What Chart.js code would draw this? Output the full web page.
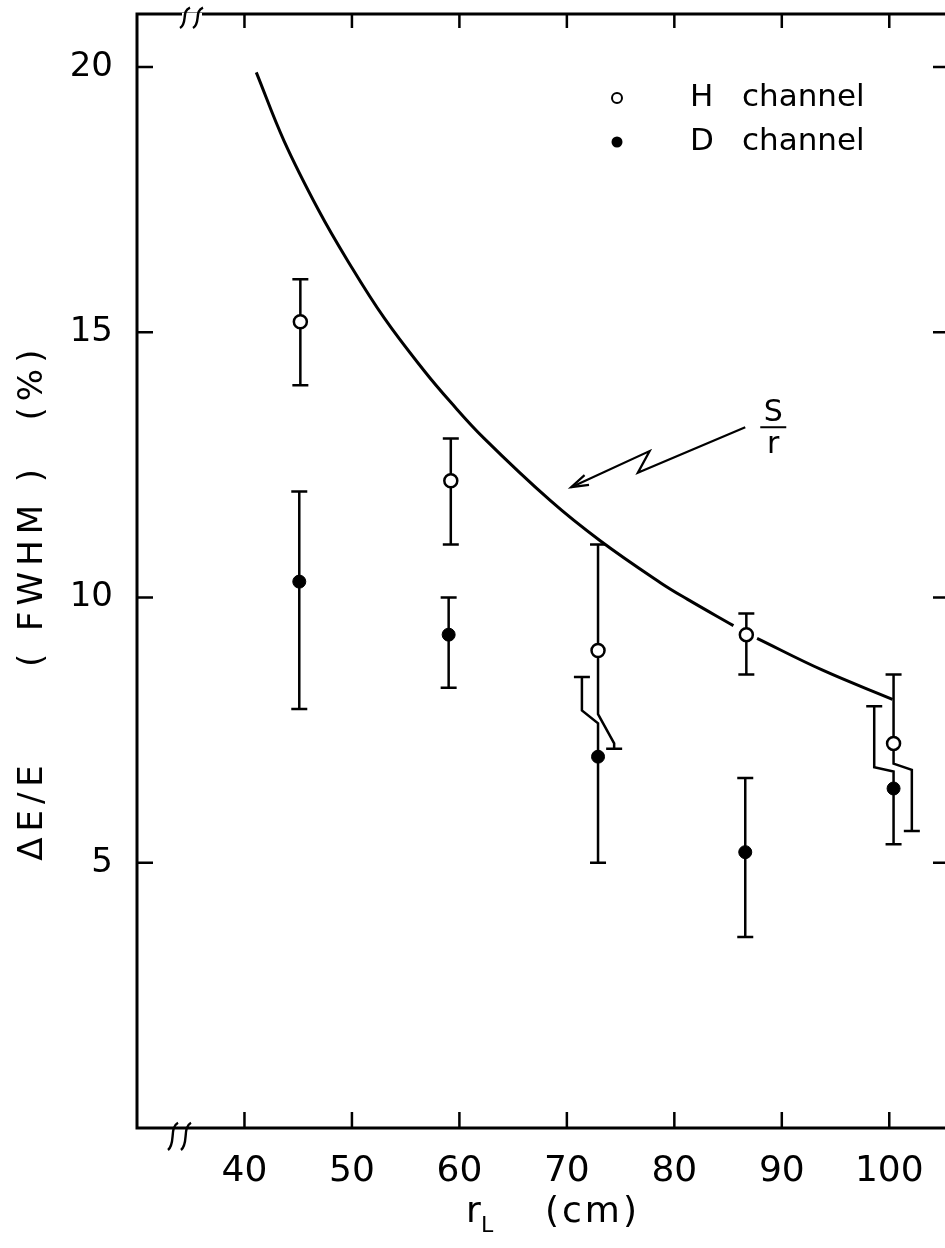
<!DOCTYPE html>
<html>
<head>
<meta charset="utf-8">
<script src="https://cdn.jsdelivr.net/npm/chart.js@4.4.0/dist/chart.umd.min.js"></script>
<style>
  html, body { margin: 0; padding: 0; background: #fff; overflow: hidden; }
  canvas { display: block; }
</style>
</head>
<body>
<canvas id="energy-chart" width="952" height="1248"></canvas>
<script>
// ---------------------------------------------------------------
// Energy resolution vs. radius : H and D channels, with S/r curve
// ---------------------------------------------------------------
var xTicks = [40, 50, 60, 70, 80, 90, 100];
var yTicks = [5, 10, 15, 20];

// H channel (open circles)
var hX    = [45.2, 59.2, 72.9, 86.7, 100.4];
var hY    = [15.2, 12.2, 9.0, 9.3, 7.25];
var hLow  = [14.0, 11.0, 7.15, 8.55, 5.6];
var hHigh = [16.0, 13.0, 11.0, 9.7, 8.55];
// lower half of some H bars is shifted right so it doesn't overlap D
var hJogX      = [null, null, 74.4, null, 102.1];
var hJogTop    = [null, null, 7.8, null, 6.87];
var hJogBottom = [null, null, 7.25, null, 6.75];

// D channel (filled circles)
var dX    = [45.1, 59.0, 72.9, 86.6, 100.4];
var dY    = [10.3, 9.3, 7.0, 5.2, 6.4];
var dLow  = [7.9, 8.3, 5.0, 3.6, 5.35];
var dHigh = [12.0, 10.0, 8.5, 6.6, 7.95];
// upper half of some D bars is shifted left
var dJogX      = [null, null, 71.4, null, 98.6];
var dJogTop    = [null, null, 7.87, null, 6.8];
var dJogBottom = [null, null, 7.63, null, 6.72];

// S/r curve, read along its length (gap where it passes the H point)
var sX = [41.1, 43.7, 46.9, 49.6, 53.0, 56.7, 59.2, 62.3, 68.5, 73.1, 78.7, 81.2, 85.5, 86.6, 87.7, 93.8, 100.3];
var sY = [19.9, 18.6, 17.3, 16.35, 15.27, 14.28, 13.68, 13.0, 11.82, 11.07, 10.28, 9.97, 9.47, null, 9.23, 8.63, 8.08];

// lightning arrow pointing at the curve (data units), tail first
var arrowX = [86.6, 76.6, 77.7, 70.4];
var arrowY = [13.21, 12.35, 12.76, 12.08];

var FONT = '"DejaVu Sans", sans-serif';

function pts(xs, ys) {
  var out = [];
  for (var i = 0; i < xs.length; i++) out.push({x: xs[i], y: ys[i]});
  return out;
}

function cap(ctx, px, py) {
  ctx.moveTo(px - 8, py);
  ctx.lineTo(px + 8, py);
}

var framePlugin = {
  id: 'frame',
  beforeDatasetsDraw: function(chart) {
    var ctx = chart.ctx, x = chart.scales.x, y = chart.scales.y;
    ctx.save();
    ctx.strokeStyle = '#000';
    ctx.lineWidth = 2.5;
    // H error bars
    for (var i = 0; i < hX.length; i++) {
      var px = x.getPixelForValue(hX[i]);
      ctx.beginPath();
      cap(ctx, px, y.getPixelForValue(hHigh[i]));
      ctx.moveTo(px, y.getPixelForValue(hHigh[i]));
      if (hJogX[i] !== null) {
        var jx = x.getPixelForValue(hJogX[i]);
        ctx.lineTo(px, y.getPixelForValue(hJogTop[i]));
        ctx.lineTo(jx, y.getPixelForValue(hJogBottom[i]));
        ctx.lineTo(jx, y.getPixelForValue(hLow[i]));
        cap(ctx, jx, y.getPixelForValue(hLow[i]));
      } else {
        ctx.lineTo(px, y.getPixelForValue(hLow[i]));
        cap(ctx, px, y.getPixelForValue(hLow[i]));
      }
      ctx.stroke();
    }
    // D error bars
    for (var j = 0; j < dX.length; j++) {
      var qx = x.getPixelForValue(dX[j]);
      ctx.beginPath();
      if (dJogX[j] !== null) {
        var kx = x.getPixelForValue(dJogX[j]);
        cap(ctx, kx, y.getPixelForValue(dHigh[j]));
        ctx.moveTo(kx, y.getPixelForValue(dHigh[j]));
        ctx.lineTo(kx, y.getPixelForValue(dJogTop[j]));
        ctx.lineTo(qx, y.getPixelForValue(dJogBottom[j]));
      } else {
        cap(ctx, qx, y.getPixelForValue(dHigh[j]));
        ctx.moveTo(qx, y.getPixelForValue(dHigh[j]));
      }
      ctx.lineTo(qx, y.getPixelForValue(dLow[j]));
      cap(ctx, qx, y.getPixelForValue(dLow[j]));
      ctx.stroke();
    }
    ctx.restore();
  },
  afterDraw: function(chart) {
    var ctx = chart.ctx, a = chart.chartArea, x = chart.scales.x, y = chart.scales.y;
    var edge = chart.width;
    ctx.save();
    ctx.strokeStyle = '#000';
    ctx.fillStyle = '#000';

    // frame: left, top and bottom; the right side runs off the page
    ctx.lineWidth = 3;
    ctx.beginPath();
    ctx.moveTo(edge, a.top); ctx.lineTo(a.left, a.top);
    ctx.lineTo(a.left, a.bottom); ctx.lineTo(edge, a.bottom);
    ctx.stroke();

    // inward ticks
    ctx.lineWidth = 2.5;
    ctx.beginPath();
    xTicks.forEach(function(v) {
      var px = x.getPixelForValue(v);
      ctx.moveTo(px, a.bottom); ctx.lineTo(px, a.bottom - 16);
      ctx.moveTo(px, a.top); ctx.lineTo(px, a.top + 14);
    });
    yTicks.forEach(function(v) {
      var py = y.getPixelForValue(v);
      ctx.moveTo(a.left, py); ctx.lineTo(a.left + 16, py);
      ctx.moveTo(edge, py); ctx.lineTo(a.right - 10, py);
    });
    ctx.stroke();

    // axis break marks
    function brk(bx, by, h) {
      ctx.fillStyle = '#fff';
      ctx.fillRect(bx - 3, by - 3, 20, 6);
      ctx.lineWidth = 2.4;
      [bx, bx + 13].forEach(function(sx) {
        ctx.beginPath();
        ctx.moveTo(sx - 5, by + h);
        ctx.bezierCurveTo(sx + 3, by + h * 0.6, sx - 4, by - h * 0.4, sx + 5, by - h * 0.7);
        ctx.stroke();
      });
    }
    brk(a.left + 36, a.bottom + 6, 16);
    brk(a.left + 48, a.top + 2, 12);
    ctx.fillStyle = '#000';

    // lightning arrow towards the curve
    ctx.lineWidth = 2.2;
    ctx.beginPath();
    for (var i = 0; i < arrowX.length; i++) {
      var ax = x.getPixelForValue(arrowX[i]), ay = y.getPixelForValue(arrowY[i]);
      if (i === 0) ctx.moveTo(ax, ay); else ctx.lineTo(ax, ay);
    }
    ctx.stroke();
    var n = arrowX.length - 1;
    var ex = x.getPixelForValue(arrowX[n]), ey = y.getPixelForValue(arrowY[n]);
    var fx = x.getPixelForValue(arrowX[n - 1]), fy = y.getPixelForValue(arrowY[n - 1]);
    var ang = Math.atan2(ey - fy, ex - fx);
    ctx.beginPath();
    ctx.moveTo(ex - 18 * Math.cos(ang - 0.3), ey - 18 * Math.sin(ang - 0.3));
    ctx.lineTo(ex, ey);
    ctx.lineTo(ex - 18 * Math.cos(ang + 0.3), ey - 18 * Math.sin(ang + 0.3));
    ctx.stroke();

    // S / r label
    var lx = x.getPixelForValue(arrowX[0]) + 28, ly = y.getPixelForValue(arrowY[0]);
    ctx.font = '30px ' + FONT;
    ctx.textAlign = 'center';
    ctx.textBaseline = 'alphabetic';
    ctx.fillText('S', lx, ly - 6);
    ctx.fillText('r', lx, ly + 26);
    ctx.lineWidth = 2;
    ctx.beginPath();
    ctx.moveTo(lx - 13, ly); ctx.lineTo(lx + 13, ly);
    ctx.stroke();

    // legend
    var gx = 617, rows = [98, 142];
    ctx.lineWidth = 2;
    ctx.beginPath();
    ctx.arc(gx, rows[0], 5, 0, Math.PI * 2);
    ctx.stroke();
    ctx.beginPath();
    ctx.arc(gx, rows[1], 5.5, 0, Math.PI * 2);
    ctx.fill();
    ctx.font = '31px ' + FONT;
    ctx.textAlign = 'left';
    ctx.textBaseline = 'middle';
    ctx.fillText('H', 690, rows[0]);
    ctx.fillText('channel', 742, rows[0]);
    ctx.fillText('D', 690, rows[1]);
    ctx.fillText('channel', 742, rows[1]);

    // x-axis title: r_L (cm)
    ctx.font = '36px ' + FONT;
    ctx.textBaseline = 'alphabetic';
    ctx.fillText('r', 466, 1222);
    ctx.font = '22px ' + FONT;
    ctx.fillText('L', 481, 1232);
    ctx.font = '36px ' + FONT;
    ctx.letterSpacing = '3px';
    ctx.fillText('(cm)', 545, 1222);

    // y-axis title
    ctx.translate(42, 0);
    ctx.rotate(-Math.PI / 2);
    ctx.font = '34px ' + FONT;
    ctx.letterSpacing = '6px';
    ctx.textAlign = 'center';
    ctx.fillText('\u0394E/E', -810, 0);
    ctx.fillText('( FWHM )', -565, 0);
    ctx.fillText('(%)', -382, 0);
    ctx.restore();
  }
};

var ctx = document.getElementById('energy-chart').getContext('2d');
var chart = new Chart(ctx, {
  type: 'scatter',
  data: {
    datasets: [
      {
        label: 'S/r',
        type: 'line',
        data: pts(sX, sY),
        borderColor: '#000',
        borderWidth: 3,
        pointRadius: 0,
        tension: 0.4,
        spanGaps: false,
        order: 3
      },
      {
        label: 'H channel',
        data: pts(hX, hY),
        pointStyle: 'circle',
        pointRadius: 6.5,
        backgroundColor: '#fff',
        borderColor: '#000',
        borderWidth: 2.5,
        order: 1
      },
      {
        label: 'D channel',
        data: pts(dX, dY),
        pointStyle: 'circle',
        pointRadius: 6.5,
        backgroundColor: '#000',
        borderColor: '#000',
        borderWidth: 1,
        order: 2
      }
    ]
  },
  options: {
    responsive: false,
    animation: false,
    events: [],
    layout: { padding: { top: 14, right: 5, left: 0, bottom: 0 } },
    plugins: { legend: { display: false }, tooltip: { enabled: false } },
    scales: {
      x: {
        type: 'linear',
        min: 30,
        max: 105,
        afterBuildTicks: function(s) { s.ticks = xTicks.map(function(v) { return {value: v}; }); },
        afterFit: function(s) {
          s.height = 120;
          s.paddingLeft = 0; s.paddingRight = 0; s.paddingTop = 0; s.paddingBottom = 0;
        },
        grid: { display: false, drawTicks: false },
        border: { display: false },
        ticks: { color: '#000', font: { family: FONT, size: 36 }, padding: 22, maxRotation: 0 }
      },
      y: {
        type: 'linear',
        min: 0,
        max: 21,
        afterBuildTicks: function(s) { s.ticks = yTicks.map(function(v) { return {value: v}; }); },
        afterFit: function(s) {
          s.width = 137;
          s.paddingLeft = 0; s.paddingRight = 0; s.paddingTop = 0; s.paddingBottom = 0;
        },
        grid: { display: false, drawTicks: false },
        border: { display: false },
        ticks: { color: '#000', font: { family: FONT, size: 34 }, padding: 24 }
      }
    }
  },
  plugins: [framePlugin]
});
</script>
</body>
</html>
